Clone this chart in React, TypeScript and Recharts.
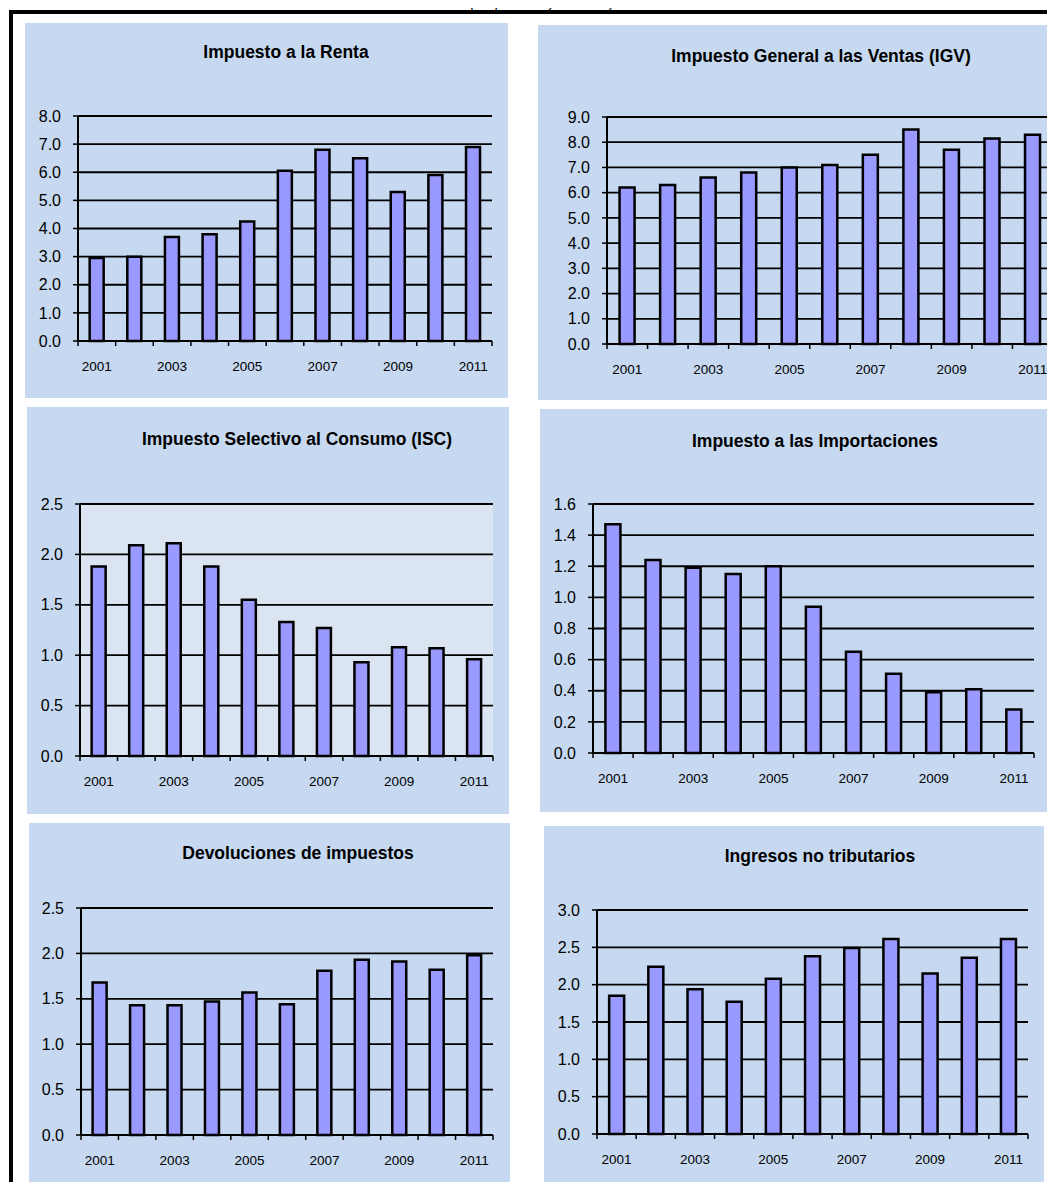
import { BarChart, Bar, XAxis, YAxis, CartesianGrid } from 'recharts'

const years = ['2001', '2002', '2003', '2004', '2005', '2006', '2007', '2008', '2009', '2010', '2011']

const renta = [2.95, 3.0, 3.7, 3.8, 4.25, 6.05, 6.8, 6.5, 5.3, 5.9, 6.9]
const igv = [6.2, 6.3, 6.6, 6.8, 7.0, 7.1, 7.5, 8.5, 7.7, 8.15, 8.3]
const isc = [1.88, 2.09, 2.11, 1.88, 1.55, 1.33, 1.27, 0.93, 1.08, 1.07, 0.96]
const importaciones = [1.47, 1.24, 1.19, 1.15, 1.2, 0.94, 0.65, 0.51, 0.39, 0.41, 0.28]
const devoluciones = [1.68, 1.43, 1.43, 1.47, 1.57, 1.44, 1.81, 1.93, 1.91, 1.82, 1.98]
const noTributarios = [1.85, 2.24, 1.94, 1.77, 2.08, 2.38, 2.49, 2.61, 2.15, 2.36, 2.61]

const rentaTicks = [0, 1, 2, 3, 4, 5, 6, 7, 8]
const igvTicks = [0, 1, 2, 3, 4, 5, 6, 7, 8, 9]
const iscTicks = [0, 0.5, 1, 1.5, 2, 2.5]
const importacionesTicks = [0, 0.2, 0.4, 0.6, 0.8, 1, 1.2, 1.4, 1.6]
const devolucionesTicks = [0, 0.5, 1, 1.5, 2, 2.5]
const noTributariosTicks = [0, 0.5, 1, 1.5, 2, 2.5, 3]

const FONT = '"Liberation Sans", Arial, Helvetica, sans-serif'
const PANEL_BG = '#C6D9F1'
const BAR_FILL = '#9999FF'
const X_TICK_SIZE = 5
const X_TICK_MARGIN = 15
const X_AXIS_HEIGHT = 40

type Box = { x: number; y: number; w: number; h: number }
type Plot = { l: number; t: number; r: number; b: number }

type PanelProps = {
  title: string
  values: number[]
  ticks: number[]
  box: Box
  plot: Plot
  titleX: number
  titleY: number
  plotFill?: string
}

// tick marks sit on the category boundaries, labels only every other year
const YearTick = (props: any) => {
  const { x, y, payload, index, visibleTicksCount } = props
  const half = payload?.offset ?? 18.8
  const axisY = y - X_TICK_SIZE - X_TICK_MARGIN
  return (
    <g>
      <line x1={x - half} x2={x - half} y1={axisY} y2={axisY + 5} stroke="#000" strokeWidth={1.5} />
      {index === visibleTicksCount - 1 && (
        <line x1={x + half} x2={x + half} y1={axisY} y2={axisY + 5} stroke="#000" strokeWidth={1.5} />
      )}
      {index % 2 === 0 && (
        <text x={x} y={y} dy="0.71em" textAnchor="middle" fill="#000" fontSize={13.5} fontFamily={FONT}>
          {payload.value}
        </text>
      )}
    </g>
  )
}

const Panel = ({ title, values, ticks, box, plot, titleX, titleY, plotFill }: PanelProps) => {
  const data = years.map((year, i) => ({ year, value: values[i] }))
  const yAxisWidth = plot.l - box.x
  const margin = {
    top: plot.t - box.y,
    right: box.x + box.w - plot.r,
    left: 0,
    bottom: box.y + box.h - plot.b - X_AXIS_HEIGHT,
  }
  return (
    <div
      style={{
        position: 'absolute',
        left: box.x,
        top: box.y,
        width: box.w,
        height: box.h,
        background: PANEL_BG,
      }}
    >
      <div
        style={{
          position: 'absolute',
          left: titleX - box.x - 250,
          top: titleY - box.y - 11,
          width: 500,
          lineHeight: '22px',
          textAlign: 'center',
          fontFamily: FONT,
          fontWeight: 'bold',
          fontSize: 17.5,
          color: '#000',
        }}
      >
        {title}
      </div>
      <BarChart width={box.w} height={box.h} data={data} margin={margin} barCategoryGap="31%">
        <CartesianGrid
          vertical={false}
          stroke="#000"
          strokeWidth={1.8}
          fill={plotFill ?? 'none'}
          fillOpacity={1}
        />
        <XAxis
          dataKey="year"
          height={X_AXIS_HEIGHT}
          interval={0}
          tickLine={false}
          tickSize={X_TICK_SIZE}
          tickMargin={X_TICK_MARGIN}
          axisLine={{ stroke: '#000', strokeWidth: 2 }}
          tick={<YearTick />}
        />
        <YAxis
          type="number"
          width={yAxisWidth}
          domain={[0, ticks[ticks.length - 1]]}
          ticks={ticks}
          interval={0}
          tickSize={5}
          tickMargin={12}
          tickLine={{ stroke: '#000', strokeWidth: 1.5 }}
          axisLine={{ stroke: '#000', strokeWidth: 2 }}
          tickFormatter={(v: number) => v.toFixed(1)}
          tick={{ fill: '#000', fontSize: 16, fontFamily: FONT }}
        />
        <Bar dataKey="value" fill={BAR_FILL} stroke="#000" strokeWidth={2.5} isAnimationActive={false} />
      </BarChart>
    </div>
  )
}

export default function App() {
  return (
    <div
      style={{
        position: 'relative',
        width: 1055,
        height: 1190,
        margin: -8,
        overflow: 'hidden',
        background: '#fff',
      }}
    >
      <div
        style={{
          position: 'absolute',
          left: 0,
          top: -1,
          width: 1085,
          textAlign: 'center',
          fontFamily: FONT,
          fontWeight: 'bold',
          fontStyle: 'italic',
          fontSize: 10,
          lineHeight: '11px',
          letterSpacing: 1.5,
          color: '#222',
        }}
      >
        (En porcentaje del PBI)
      </div>
      <div
        style={{
          position: 'absolute',
          left: 9,
          top: 10,
          width: 1100,
          height: 1200,
          borderTop: '4px solid #000',
          borderLeft: '4px solid #000',
        }}
      />
      <Panel
        title="Impuesto a la Renta"
        values={renta}
        ticks={rentaTicks}
        box={{ x: 25, y: 23, w: 483, h: 375 }}
        plot={{ l: 78, t: 116, r: 492, b: 341 }}
        titleX={286}
        titleY={52}
      />
      <Panel
        title="Impuesto General a las Ventas (IGV)"
        values={igv}
        ticks={igvTicks}
        box={{ x: 538, y: 25, w: 525, h: 375 }}
        plot={{ l: 607, t: 117, r: 1053, b: 344 }}
        titleX={821}
        titleY={56}
      />
      <Panel
        title="Impuesto Selectivo al Consumo (ISC)"
        values={isc}
        ticks={iscTicks}
        box={{ x: 27, y: 407, w: 482, h: 407 }}
        plot={{ l: 80, t: 504, r: 493, b: 756 }}
        titleX={297}
        titleY={439}
        plotFill="#DBE5F1"
      />
      <Panel
        title="Impuesto a las Importaciones"
        values={importaciones}
        ticks={importacionesTicks}
        box={{ x: 540, y: 409, w: 525, h: 403 }}
        plot={{ l: 593, t: 504, r: 1034, b: 753 }}
        titleX={815}
        titleY={441}
      />
      <Panel
        title="Devoluciones de impuestos"
        values={devoluciones}
        ticks={devolucionesTicks}
        box={{ x: 29, y: 823, w: 481, h: 362 }}
        plot={{ l: 81, t: 908, r: 493, b: 1135 }}
        titleX={298}
        titleY={853}
      />
      <Panel
        title="Ingresos no tributarios"
        values={noTributarios}
        ticks={noTributariosTicks}
        box={{ x: 544, y: 826, w: 500, h: 357 }}
        plot={{ l: 597, t: 910, r: 1028, b: 1134 }}
        titleX={820}
        titleY={856}
      />
    </div>
  )
}
